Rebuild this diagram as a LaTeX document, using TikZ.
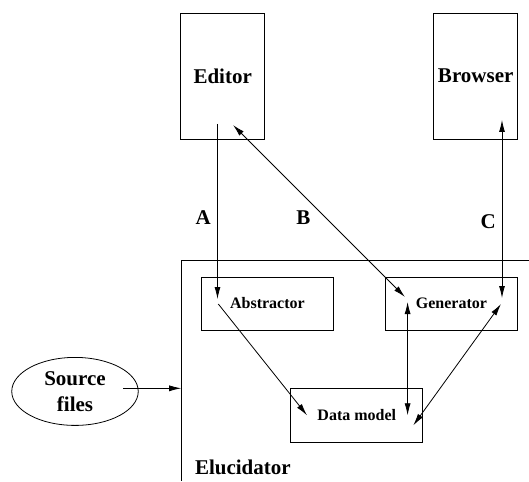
\documentclass[tikz,border=0pt]{standalone}
\usepackage{fontspec}
\setmainfont{Liberation Serif}
\usetikzlibrary{arrows.meta,shapes.geometric}
\begin{document}
\begin{tikzpicture}[x=1pt,y=-1pt,
  line width=0.8pt,
  big/.style={font=\fontsize{21}{24}\selectfont\bfseries},
  small/.style={font=\fontsize{16}{19}\selectfont\bfseries},
  tool/.style={draw,inner sep=0pt,minimum width=84pt,minimum height=126pt,big},
  part/.style={draw,inner sep=0pt,minimum width=132pt,minimum height=53pt,small},
  link/.style={-{Latex[length=12pt,width=6pt]}},
  both/.style={{Latex[length=12pt,width=6pt]}-{Latex[length=12pt,width=6pt]}}]
\useasboundingbox (0,0) rectangle (529,481);

% outer system frame, open to the right and bottom
\draw (529,260.8) -- (181.2,260.8) coordinate (frameTL) -- (181.2,481);
\coordinate (frameIn) at (181.2,388.3);
\node[big,anchor=west] (eluc) at (191.3,467) {Elucidator};

% external tools
\node[tool] (editor) at (222.7,76) {Editor};
\node[tool] (browser) at (475.7,76) {Browser};

% internal components
\node[part] (abs) at (267.4,303.5) {Abstractor};
\node[part] (gen) at (451.4,303.5) {Generator};
\node[part,minimum height=54pt] (dm) at (356.8,415.3) {Data model};

% source input
\node[draw,ellipse,minimum width=126.5pt,minimum height=68pt,inner sep=0pt,
      big,align=center] (src) at (75,391.4) {Source\\[2pt]files};

% connector end points
\coordinate (edA) at (217.5,124);
\coordinate (edB) at (233,125);
\coordinate (brC) at (502,120);
\coordinate (absIn) at (217.5,299);
\coordinate (absOut) at (218.3,304);
\coordinate (genB) at (405,297);
\coordinate (genC) at (502,298);
\coordinate (genV) at (407.6,302);
\coordinate (genD) at (501,304);
\coordinate (dmA) at (307,415.3);
\coordinate (dmV) at (407.6,415.3);
\coordinate (dmD) at (413.3,425.4);
\coordinate (srcOut) at (123,388.3);

% connectors
\draw[link] (edA) -- (absIn);
\draw[both] (genB) -- (edB);
\draw[both] (genC) -- (brC);
\draw[link] (absOut) -- (dmA);
\draw[both] (genV) -- (dmV);
\draw[both] (genD) -- (dmD);
\draw[link] (srcOut) -- (frameIn);

% connector labels
\node[big] (lA) at (203.3,218) {A};
\node[big] (lB) at (303.3,218) {B};
\node[big] (lC) at (488.3,222) {C};
\end{tikzpicture}
\end{document}
